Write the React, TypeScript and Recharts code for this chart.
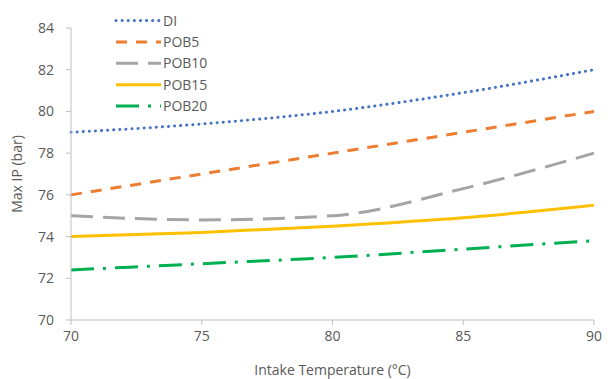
import React from 'react';
import { LineChart, Line, XAxis, YAxis } from 'recharts';

const temps = [70, 75, 80, 85, 90];
const di = [79.0, 79.4, 80.0, 80.9, 82.0];
const pob5 = [76.0, 77.0, 78.0, 79.0, 80.0];
const pob10 = [75.0, 74.8, 75.0, 76.3, 78.0];
const pob15 = [74.0, 74.2, 74.5, 74.9, 75.5];
const pob20 = [72.4, 72.7, 73.0, 73.4, 73.8];
const xTicks = [70, 75, 80, 85, 90];
const yTicks = [70, 72, 74, 76, 78, 80, 82, 84];

const series = [
  { key: 'DI', values: di, color: '#4472C4', dash: '0.1 6', cap: 'round' },
  { key: 'POB5', values: pob5, color: '#ED7D31', dash: '11 9', cap: 'butt' },
  { key: 'POB10', values: pob10, color: '#A5A5A5', dash: '22 10', cap: 'butt' },
  { key: 'POB15', values: pob15, color: '#FFC000', dash: undefined, cap: 'butt' },
  { key: 'POB20', values: pob20, color: '#00B050', dash: '23 9 3 9', cap: 'butt' },
];

const data = temps.map((t, i) => {
  const row: any = { t };
  series.forEach((s) => (row[s.key] = s.values[i]));
  return row;
});

const FONT = '"Open Sans", "Noto Sans", sans-serif';
const TEXT = '#595959';
const AXIS = '#BFBFBF';

const LegendOverlay = () => (
  <svg
    width={130}
    height={115}
    style={{ position: 'absolute', left: 113, top: 10, pointerEvents: 'none' }}
  >
    {series.map((s, i) => {
      const y = 10.5 + i * 21.4;
      return (
        <g key={s.key}>
          <line
            x1={3}
            x2={48}
            y1={y}
            y2={y}
            stroke={s.color}
            strokeWidth={3}
            strokeDasharray={s.dash}
            strokeLinecap={s.cap as any}
          />
          <text x={50} y={y + 5} fontSize={14} fill={TEXT} fontFamily={FONT}>
            {s.key}
          </text>
        </g>
      );
    })}
  </svg>
);

export default function App() {
  return (
    <div style={{ position: 'absolute', left: 0, top: 0, width: 613, height: 379, background: '#fff' }}>
      <LineChart
        width={613}
        height={379}
        data={data}
        margin={{ top: 28, right: 19, bottom: 0, left: 0 }}
      >
        <XAxis
          dataKey="t"
          type="number"
          domain={[70, 90]}
          ticks={xTicks}
          stroke={AXIS}
          tickSize={5}
          tickMargin={6}
          height={59}
          tick={{ fill: TEXT, fontSize: 14, fontFamily: FONT }}
          label={{
            value: 'Intake Temperature (°C)',
            position: 'insideBottom',
            offset: 4,
            fill: TEXT,
            fontSize: 14,
            fontFamily: FONT,
          }}
        />
        <YAxis
          type="number"
          domain={[70, 84]}
          ticks={yTicks}
          stroke={AXIS}
          tickSize={5}
          tickMargin={12}
          width={71}
          tick={{ fill: TEXT, fontSize: 14, fontFamily: FONT }}
          label={{
            value: 'Max IP (bar)',
            angle: -90,
            position: 'insideLeft',
            offset: 17,
            fill: TEXT,
            fontSize: 14,
            fontFamily: FONT,
            style: { textAnchor: 'middle' },
          }}
        />
        {series.map((s) => (
          <Line
            key={s.key}
            dataKey={s.key}
            type="monotone"
            stroke={s.color}
            strokeWidth={3}
            strokeDasharray={s.dash}
            strokeLinecap={s.cap as any}
            dot={false}
            activeDot={false}
            isAnimationActive={false}
          />
        ))}
      </LineChart>
      <LegendOverlay />
    </div>
  );
}
